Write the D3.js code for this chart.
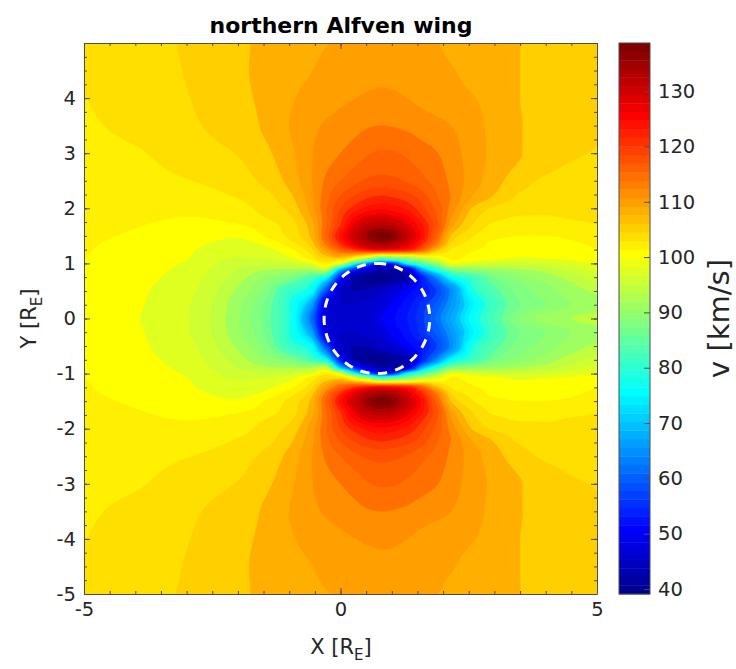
<!DOCTYPE html>
<html>
<head>
<meta charset="utf-8">
<script src="https://cdn.jsdelivr.net/npm/d3@7"></script>
<style>
html,body{margin:0;padding:0;background:#fff}
svg{display:block}
text{font-family:"DejaVu Sans",sans-serif;fill:#262626}
</style>
</head>
<body>
<svg id="chart" width="736" height="669"></svg>
<script>
const titleText = "northern Alfven wing";
const colorbarLabel = "v [km/s]";
const colorRange = [39.1, 138.7];
const colorbarTicks = [40,50,60,70,80,90,100,110,120,130];
const xMajorTicks = [-5,0,5];
const yMajorTicks = [-5,-4,-3,-2,-1,0,1,2,3,4];
const planetCenter = [0.71,0];
const planetRadius = [1.03,1];
const contourStep = 2;

const xSamples = [-5,-4,-3,-2,-1.5,-1,-0.6,-0.3,0,0.3,0.6,0.8,1,1.3,1.6,1.9,2.2,2.6,3,3.5,4,4.5,5];
// northern half, the southern half mirrors it about Y = 0
const ySamples = [5,4.5,4,3.5,3,2.5,2.2,2,1.85,1.7,1.5,1.35,1.25,1.18,1.12,1.06,1,0.9,0.75,0.5,0.25,0];
const speedRows = [
[104.8,105.4,106.2,107.6,108.4,109.1,109.6,109.9,110.2,110.5,110.7,110.8,110.8,110.7,110.3,110,109.6,109.2,108.7,108,107.5,107.1,106.8],
[104.3,105.1,106.1,107.7,108.4,109.3,109.9,110.4,110.9,111.2,111.4,111.5,111.5,111.3,110.9,110.4,110.05,109.4,108.8,108,107.4,106.9,106.5],
[103.95,104.9,105.9,107.6,108.3,109.7,110.6,111.1,111.6,112,112.3,112.4,112.3,112,111.5,111,110.6,110.05,109.3,108,107,106.4,106],
[103.7,104.5,105.6,107.1,108.2,110,111.4,112.2,112.8,113.4,113.9,114,113.9,113.6,113,112.5,111.9,110.6,109.4,108.1,107.2,106.6,106.2],
[103.4,103.8,105,106.1,107.4,109.4,111.7,113,114,115,116,116.3,116.2,115.6,114.8,114,112.7,110.9,109.5,108.1,107,106.2,105.9],
[103.1,103.3,103.9,105.1,106.4,108.6,111.6,114.2,116,117.5,118.5,118.7,118.5,117.8,116.5,115,113.3,110.8,108.8,106.8,105.7,105.4,105.4],
[102.85,103,103,104.1,105.2,107.4,111,115,118.3,120.5,122,122.4,122,121,119,116,113.5,109.6,107.7,105.6,105,105,105.1],
[102.7,102.8,102.4,103.2,104.7,106.5,110.5,115.5,120,123,125,125.5,125,123.5,120.5,117,112.5,107.6,105.6,104.7,104.4,104.6,105],
[102.6,102.4,102,102.5,104,105.7,109.6,115.2,121,126,128.8,129.3,128.5,126,122,117.5,111.5,106.5,104.7,103.9,103.9,104.2,104.5],
[102.45,102.1,101.6,101.9,103,105,108.6,115.3,122,129,133.2,134,133,129,124,118,110,105.8,103.6,103.2,103.3,103.5,103.9],
[102.3,101.8,101,100.2,102,104.5,108,116,125,132,137.5,139,138,132,125,116,107,104,102.4,102,102,102.2,102.6],
[102.2,101.5,100.6,99.3,100.2,102.9,106.3,114,122,129,134,135,134,129,122,113,105,103,101.6,101.5,101.6,101.8,102.2],
[102.15,101.3,100.3,98.5,99.4,101.4,105,111,117,122,126,127,126,124,117,108,103.5,102.2,101.4,100.9,101.1,101.4,102],
[102.1,101.2,100.2,98.2,98.8,100.6,104,109,113,113,110,108,108,108,108,104,103,101.7,101,100.4,100.7,101.2,101.8],
[102.05,101.1,100.1,98,98.3,99.8,103,107,109,104,98,92,94,95,99,101,102.5,101.2,100.6,100,100.3,100.8,101.4],
[102,101,100,97.5,97.5,99,102,105,104,95,83,76,78,86,92,98,102,100.6,100,99.5,99.5,100,101],
[101.8,100.9,99.8,97,96.5,97,98.5,103.5,98,76,60,52,54,76,85,92,100,98,97,97,98,99,100.2],
[101.5,100.8,99.5,96,94.5,94,94,97,72,56,47,44,44,47,70,82,90,92,93,94,95,97,99],
[101.1,100.6,99,95,92,89,84,78,54,43,41.5,41,42,44,55,66,78,83,88,91,93,95,97],
[100.9,100.3,98.6,93.5,89.5,82,78,60,46,44,44.5,46,48,51,54,58.5,66,80,85,89,91,93,94.5],
[100.8,100.2,98.2,92.5,88,80,69,50,46,46,47,48.5,50.5,53,57,61,67,76,83,88,90,92,93],
[100.8,100.1,98.1,92.2,87.5,80,64,49,46.5,47,48,50,51.5,54,57.5,63,69,78,84,90,93,94,95]
];

const plot = {left:84,right:597,top:43,bottom:594};
const bar = {left:619,right:650};
const x = d3.scaleLinear().domain([-5,5]).range([plot.left,plot.right]);
const y = d3.scaleLinear().domain([-5,5]).range([plot.bottom,plot.top]);
const cY = d3.scaleLinear().domain(colorRange).range([plot.bottom,plot.top]);

function jet64(i){ // MATLAB jet(64), i = 1..64
  const r = i<=24?0:i<=40?(i-24)/16:i<=56?1:1-(i-56)/16;
  const g = i<=8?0:i<=24?(i-8)/16:i<=40?1:i<=56?1-(i-40)/16:0;
  const b = i<=8?0.5+i/16:i<=24?1:i<=40?1-(i-24)/16:0;
  return d3.rgb(r*255,g*255,b*255).formatRgb();
}
function colorOf(v){
  const k = Math.floor((v-colorRange[0])/(colorRange[1]-colorRange[0])*64);
  return jet64(Math.max(1,Math.min(64,k+1)));
}

// monotone cubic resampling of the read samples for a smooth filled field
function pchip(xs,ys){
  const n=xs.length,h=[],d=[],m=new Array(n);
  for(let i=0;i<n-1;i++){h[i]=xs[i+1]-xs[i];d[i]=(ys[i+1]-ys[i])/h[i];}
  m[0]=d[0];m[n-1]=d[n-2];
  for(let i=1;i<n-1;i++){
    if(d[i-1]*d[i]<=0)m[i]=0;
    else{const a=h[i-1]+2*h[i],b=2*h[i-1]+h[i];m[i]=(a+b)/(a/d[i-1]+b/d[i]);}
  }
  return t=>{
    let i=d3.bisectRight(xs,t)-1;i=Math.max(0,Math.min(n-2,i));
    const s=(t-xs[i])/h[i],s2=s*s,s3=s2*s;
    return (2*s3-3*s2+1)*ys[i]+(s3-2*s2+s)*h[i]*m[i]+(-2*s3+3*s2)*ys[i+1]+(s3-s2)*h[i]*m[i+1];
  };
}

const ascY = ySamples.slice().reverse();
const fullY = ascY.slice(1).reverse().map(v=>-v).concat(ascY);
const ascRows = speedRows.slice().reverse();
const fullRows = ascRows.slice(1).reverse().concat(ascRows);

const nx = plot.right-plot.left+1, ny = plot.bottom-plot.top+1;
const fineX = d3.range(nx).map(i=>x.invert(plot.left+i));
const fineY = d3.range(ny).map(j=>y.invert(plot.top+j));
const colFns = xSamples.map((_,c)=>pchip(fullY,fullRows.map(r=>r[c])));
const values = new Float64Array(nx*ny);
fineY.forEach((yv,j)=>{
  const f = pchip(xSamples,colFns.map(fn=>fn(yv)));
  fineX.forEach((xv,i)=>{values[j*nx+i]=f(xv);});
});

const svg = d3.select("#chart");
const defs = svg.append("defs");
defs.append("clipPath").attr("id","plotClip").append("rect")
  .attr("x",plot.left).attr("y",plot.top)
  .attr("width",plot.right-plot.left).attr("height",plot.bottom-plot.top);

const levels = d3.range(38,140,contourStep);
const contours = d3.contours().size([nx,ny]).smooth(true).thresholds(levels)(values);
const gridPath = d3.geoPath(d3.geoTransform({
  point(gx,gy){this.stream.point(plot.left+gx-0.5,plot.top+gy-0.5);}
}));
const field = svg.append("g").attr("clip-path","url(#plotClip)");
field.append("rect").attr("x",plot.left).attr("y",plot.top)
  .attr("width",plot.right-plot.left).attr("height",plot.bottom-plot.top)
  .attr("fill",colorOf(colorRange[0]));
field.selectAll("path").data(contours).join("path")
  .attr("d",gridPath)
  .attr("fill",d=>colorOf(d.value))
  .attr("stroke",d=>colorOf(d.value))
  .attr("stroke-width",0.4);

// planet outline
const angles = d3.range(0,361,3);
const planetLine = d3.line()
  .x(a=>x(planetCenter[0]+planetRadius[0]*Math.sin(a*Math.PI/180)))
  .y(a=>y(planetCenter[1]+planetRadius[1]*Math.cos(a*Math.PI/180)));
svg.append("path").datum(angles).attr("d",planetLine)
  .attr("fill","none").attr("stroke","#fff").attr("stroke-width",3)
  .attr("stroke-dasharray","9.3 8.4");

// axes
const axisColor = "#4d4d4d";
const xMinor = d3.range(-5,5.01,0.5);
const yMinor = d3.range(-5,5.01,0.25);
function drawAxis(gen,tx,ty,values,size,fmt){
  const g = svg.append("g").attr("transform",`translate(${tx},${ty})`)
    .call(gen.tickValues(values).tickSizeInner(-size).tickSizeOuter(0).tickPadding(8).tickFormat(fmt));
  g.select(".domain").attr("stroke",axisColor).attr("stroke-width",1);
  g.selectAll(".tick line").attr("stroke",axisColor).attr("stroke-width",1);
  g.selectAll(".tick text").attr("font-size","19.5px")
    .attr("font-family",'"DejaVu Sans",sans-serif').attr("fill","#262626");
  return g;
}
const none = ()=>"";
const label = d=>String(d);
drawAxis(d3.axisBottom(x),0,plot.bottom,xMinor,3,none);
drawAxis(d3.axisTop(x),0,plot.top,xMinor,3,none);
drawAxis(d3.axisLeft(y),plot.left,0,yMinor,3,none);
drawAxis(d3.axisRight(y),plot.right,0,yMinor,3,none);
drawAxis(d3.axisBottom(x),0,plot.bottom,xMajorTicks,6,label).select(".domain").remove();
drawAxis(d3.axisTop(x),0,plot.top,xMajorTicks,6,none).select(".domain").remove();
drawAxis(d3.axisLeft(y),plot.left,0,yMajorTicks,6,label).select(".domain").remove();
drawAxis(d3.axisRight(y),plot.right,0,yMajorTicks,6,none).select(".domain").remove();

// colorbar
const bandEdges = d3.range(65).map(k=>colorRange[0]+k*(colorRange[1]-colorRange[0])/64);
svg.append("g").selectAll("rect").data(d3.range(64)).join("rect")
  .attr("x",bar.left).attr("width",bar.right-bar.left)
  .attr("y",k=>cY(bandEdges[k+1]))
  .attr("height",k=>cY(bandEdges[k])-cY(bandEdges[k+1])+0.4)
  .attr("fill",k=>jet64(k+1));
svg.append("rect").attr("x",bar.left).attr("y",plot.top)
  .attr("width",bar.right-bar.left).attr("height",plot.bottom-plot.top)
  .attr("fill","none").attr("stroke",axisColor);
drawAxis(d3.axisRight(cY),bar.right,0,colorbarTicks,6,label).select(".domain").remove();

// titles
svg.append("text").attr("x",341).attr("y",33).attr("text-anchor","middle")
  .attr("font-size","22px").attr("font-weight","bold").attr("fill","#000").style("fill","#000").text(titleText);
const xl = svg.append("text").attr("x",341).attr("y",654).attr("text-anchor","middle").attr("font-size","21px");
xl.append("tspan").text("X [R");
xl.append("tspan").attr("font-size","15px").attr("dy",6).text("E");
xl.append("tspan").attr("dy",-6).text("]");
const yl = svg.append("text").attr("transform","translate(36,318.5) rotate(-90)").attr("text-anchor","middle").attr("font-size","21px");
yl.append("tspan").text("Y [R");
yl.append("tspan").attr("font-size","15px").attr("dy",6).text("E");
yl.append("tspan").attr("dy",-6).text("]");
svg.append("text").attr("transform","translate(729,318.5) rotate(-90)").attr("text-anchor","middle")
  .attr("font-size","29px").text(colorbarLabel);
</script>
</body>
</html>
